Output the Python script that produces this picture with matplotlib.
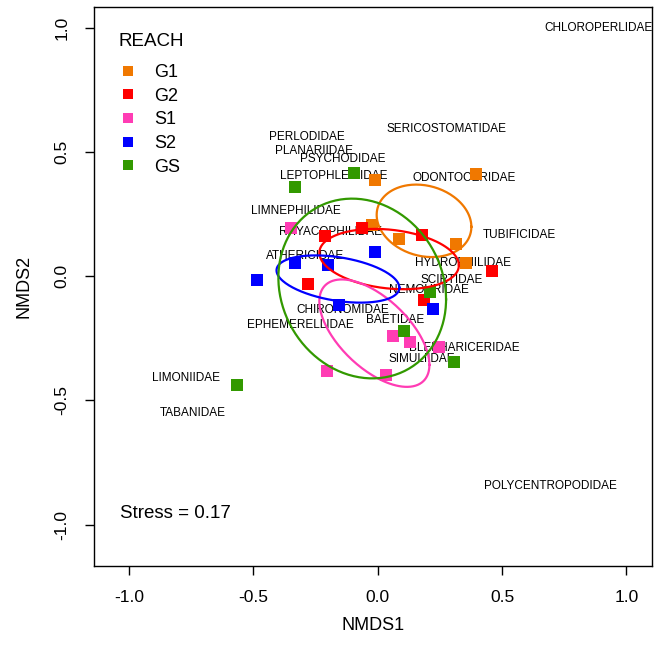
import matplotlib
matplotlib.use("Agg")
import matplotlib.pyplot as plt
from matplotlib.lines import Line2D
import numpy as np

plt.rcParams["font.family"] = ["Liberation Sans", "DejaVu Sans"]

# site scores per reach (NMDS1, NMDS2)
reaches = ["G1", "G2", "S1", "S2", "GS"]
colors = ["#F07800", "#FF0000", "#FF3CB4", "#0000FF", "#329900"]

g1_x = [-0.009, 0.394, -0.025, 0.086, 0.316, 0.355]
g1_y = [0.387, 0.411, 0.204, 0.150, 0.129, 0.051]
g2_x = [-0.063, -0.211, 0.179, 0.461, -0.279, 0.188]
g2_y = [0.195, 0.159, 0.165, 0.020, -0.032, -0.098]
s1_x = [-0.350, 0.062, 0.130, 0.247, -0.202, 0.032]
s1_y = [0.192, -0.241, -0.267, -0.285, -0.382, -0.397]
s2_x = [-0.011, -0.332, -0.199, -0.484, -0.157, 0.223]
s2_y = [0.097, 0.054, 0.043, -0.016, -0.117, -0.134]
gs_x = [-0.097, -0.333, 0.210, 0.105, 0.308, -0.567]
gs_y = [0.414, 0.360, -0.066, -0.222, -0.348, -0.440]

site_x = [g1_x, g2_x, s1_x, s2_x, gs_x]
site_y = [g1_y, g2_y, s1_y, s2_y, gs_y]

# species scores
species = ["CHLOROPERLIDAE", "SERICOSTOMATIDAE", "PERLODIDAE", "PLANARIIDAE",
           "PSYCHODIDAE", "LEPTOPHLEBIIDAE", "ODONTOCERIDAE", "LIMNEPHILIDAE",
           "RHYACOPHILIDAE", "TUBIFICIDAE", "ATHERICIDAE", "HYDROPHILIDAE",
           "SCIRTIDAE", "NEMOURIDAE", "CHIRONOMIDAE", "EPHEMERELLIDAE",
           "BAETIDAE", "BLEPHARICERIDAE", "SIMULIIDAE", "LIMONIIDAE",
           "TABANIDAE", "POLYCENTROPODIDAE"]
sp_x = [0.887, 0.276, -0.285, -0.255, -0.140, -0.175, 0.348, -0.331,
        -0.190, 0.571, -0.294, 0.343, 0.296, 0.206, -0.140, -0.310,
        0.071, 0.348, 0.177, -0.770, -0.743, 0.694]
sp_y = [0.996, 0.591, 0.558, 0.505, 0.470, 0.403, 0.394, 0.262,
        0.179, 0.165, 0.082, 0.051, -0.016, -0.056, -0.137, -0.198,
        -0.177, -0.288, -0.335, -0.409, -0.550, -0.847]

stress = 0.17

fig = plt.figure(figsize=(6.58, 6.46), dpi=100)
ax = fig.add_axes([94 / 658, 80 / 646, 558 / 658, 559 / 646])

for name, x, y in zip(species, sp_x, sp_y):
    ax.text(x, y, name, fontsize=8.5, ha="center", va="center",
            clip_on=True, zorder=2)

t = np.linspace(0, 2 * np.pi, 200)
circle = np.column_stack([np.cos(t), np.sin(t)])
for x, y, c in zip(site_x, site_y, colors):
    ax.plot(x, y, "s", color=c, markersize=8.5, markeredgewidth=0, zorder=3)
    # 1 sd ellipse, like ordiellipse(kind = "sd")
    pts = np.column_stack([x, y])
    cov = np.cov(pts.T)
    L = np.linalg.cholesky(cov)
    ell = pts.mean(axis=0) + circle @ L.T
    ax.plot(ell[:, 0], ell[:, 1], color=c, lw=1.6, zorder=4)

ax.text(-1.036, -0.954, f"Stress = {stress}", fontsize=13.5,
        ha="left", va="center")

# legend: title as plain text, entries below with a larger gap
ax.text((118 - 94) / 558, 1 - (41 - 7) / 559, "REACH", fontsize=13.5,
        ha="left", va="center", transform=ax.transAxes)
handles = [Line2D([], [], ls="", marker="s", color=c, markersize=6.5,
                  markeredgewidth=0) for c in colors]
ax.legend(handles, reaches, loc="upper left",
          bbox_to_anchor=((121 - 94) / 558, 1 - (64 - 7) / 559),
          frameon=False, fontsize=13, handlelength=0.8,
          handletextpad=1.05, labelspacing=0.37, borderpad=0,
          borderaxespad=0)

ax.set_xlim(-1.141, 1.103)
ax.set_ylim(-1.167, 1.0825)
ticks = [-1.0, -0.5, 0.0, 0.5, 1.0]
ax.set_xticks(ticks)
ax.set_yticks(ticks)
ax.set_xticklabels([f"{v:.1f}" for v in ticks])
ax.set_yticklabels([f"{v:.1f}" for v in ticks], rotation=90, va="center")
ax.tick_params(direction="out", length=6.5, width=1, labelsize=12.5, pad=11)

ax.set_xlabel("NMDS1", fontsize=13)
ax.set_ylabel("NMDS2", fontsize=13)
ax.xaxis.set_label_coords(0.5, -(625 - 566) / 559)
ax.yaxis.set_label_coords(-(94 - 24) / 558, 0.5)
ax.xaxis.label.set_va("center")
ax.yaxis.label.set_va("center")

for s in ax.spines.values():
    s.set_linewidth(1)

fig.savefig("out.png", dpi=100)
